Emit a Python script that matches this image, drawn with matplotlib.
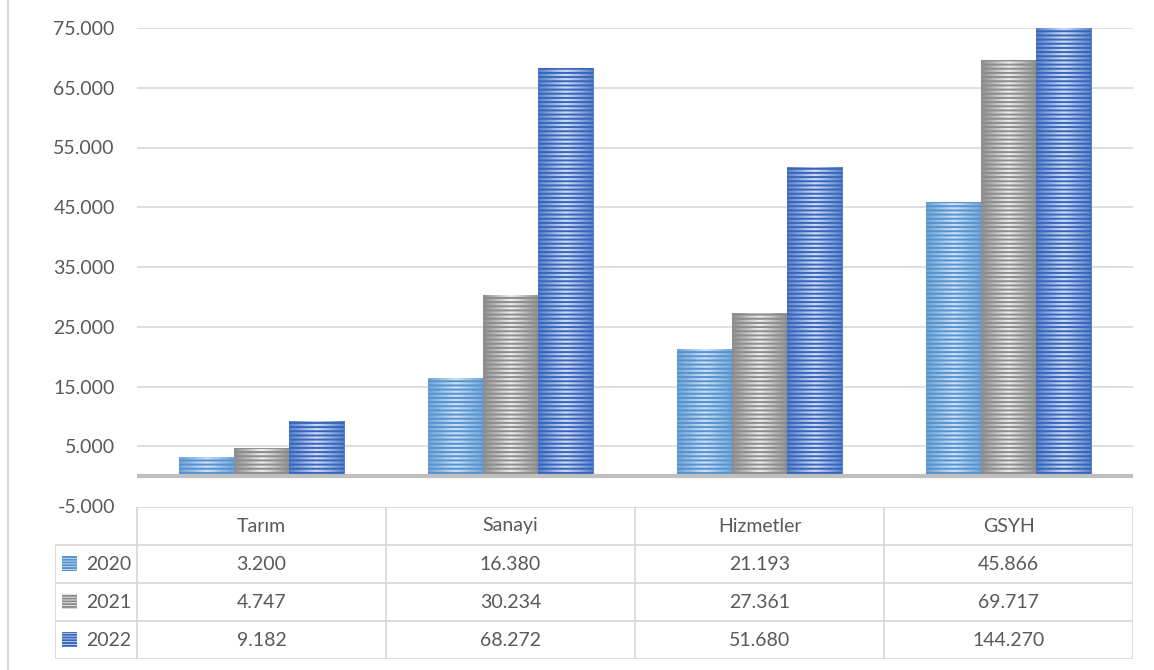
import numpy as np
import matplotlib.pyplot as plt
from matplotlib.colors import LinearSegmentedColormap
from matplotlib.patches import Rectangle

plt.rcParams['font.family'] = ['Lato', 'DejaVu Sans']
plt.rcParams['hatch.linewidth'] = 1.4

# data
categories = ['Tarım', 'Sanayi', 'Hizmetler', 'GSYH']
years = ['2020', '2021', '2022']
v2020 = [3200, 16380, 21193, 45866]
v2021 = [4747, 30234, 27361, 69717]
v2022 = [9182, 68272, 51680, 144270]
yticks = [-5000, 5000, 15000, 25000, 35000, 45000, 55000, 65000, 75000]

series = [v2020, v2021, v2022]
# (edge tone, light centre, stripe colour)
styles = [('#6ea5d9', '#cfe3f6', '#5592cf'),
          ('#8f8f8f', '#f0f0f0', '#8c8c8c'),
          ('#5581cc', '#d3e0f5', '#3864bb')]

txt = '#595959'
grid = '#d9d9d9'
fs = 14


def fmt(v):
    return f'{v:,}'.replace(',', '.')


W, H = 1154, 670
fig = plt.figure(figsize=(W / 100, H / 100), dpi=100)

# main plot area
ax = fig.add_axes([137 / W, (H - 506) / H, (1133 - 137) / W, (506 - 28) / H])
ymin, ymax = -5000, 75000
ax.set_xlim(-0.5, 3.5)
ax.set_ylim(ymin, ymax)
for s in ax.spines.values():
    s.set_visible(False)
ax.set_xticks([])
ax.set_yticks(yticks)
ax.set_yticklabels([fmt(t) for t in yticks], color=txt, fontsize=fs)
ax.tick_params(axis='y', length=0, pad=16)
for t in yticks[1:]:
    ax.axhline(t, color=grid, lw=1.2, zorder=0)
ax.axhline(0, color='#bfbfbf', lw=3, zorder=4)

x = np.arange(len(categories))
bw = 0.222
grad = np.linspace(0, 1, 64).reshape(1, -1)
for i, vals in enumerate(series):
    edge, light, stripe = styles[i]
    cmap = LinearSegmentedColormap.from_list('g%d' % i, [edge, light, edge])
    shown = [min(v, ymax) for v in vals]
    bars = ax.bar(x + (i - 1) * bw, shown, bw, color='none', linewidth=0, zorder=2)
    for b in bars:
        x0, y0, w, h = b.get_x(), b.get_y(), b.get_width(), b.get_height()
        im = ax.imshow(grad, cmap=cmap, extent=[x0, x0 + w, y0, y0 + h],
                       aspect='auto', zorder=2, interpolation='bicubic')
        im.set_clip_path(b)
    ax.bar(x + (i - 1) * bw, shown, bw, facecolor='none', edgecolor=stripe,
           linewidth=0, hatch='----', zorder=3)
ax.set_xlim(-0.5, 3.5)
ax.set_ylim(ymin, ymax)

# data table
lab_px = 82
tx0 = -0.5 - lab_px / 249
tab = fig.add_axes([55 / W, (H - 659) / H, (1133 - 55) / W, (659 - 507) / H])
tab.set_xlim(tx0, 3.5)
tab.set_ylim(4, 0)
tab.axis('off')
lc = '#d9d9d9'
tab.plot([-0.5, 3.5], [0, 0], color=lc, lw=1.3)
for r in range(1, 5):
    tab.plot([tx0, 3.5], [r, r], color=lc, lw=1.3)
tab.plot([tx0, tx0], [1, 4], color=lc, lw=1.3)
for c in range(len(categories) + 1):
    tab.plot([c - 0.5, c - 0.5], [0, 4], color=lc, lw=1.3)
for j, cat in enumerate(categories):
    tab.text(j, 0.5, cat, ha='center', va='center', color=txt, fontsize=fs)
for i, vals in enumerate(series):
    edge, light, stripe = styles[i]
    tab.add_patch(Rectangle((tx0 + 7 / 249, i + 1 + 0.3), 15 / 249, 0.38,
                            facecolor=light, edgecolor=stripe, linewidth=0,
                            hatch='------'))
    tab.text(-0.5 - 6 / 249, i + 1.5, years[i], ha='right', va='center',
             color=txt, fontsize=fs)
    for j, v in enumerate(vals):
        tab.text(j, i + 1.5, fmt(v), ha='center', va='center', color=txt,
                 fontsize=fs)

# chart border on the left
fig.add_artist(plt.Line2D([8 / W, 8 / W], [0, 1], color=grid, lw=1.5))

fig.savefig('out.png', dpi=100)
